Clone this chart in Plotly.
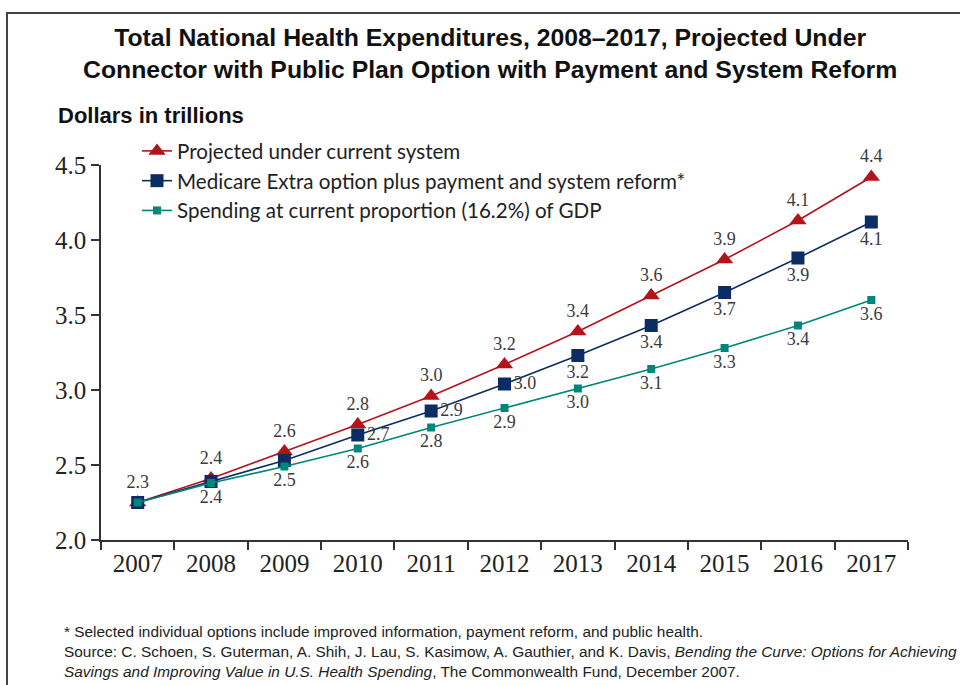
import plotly.graph_objects as go

years = ["2007", "2008", "2009", "2010", "2011", "2012", "2013", "2014", "2015", "2016", "2017"]
projected = [2.25, 2.41, 2.59, 2.77, 2.96, 3.17, 3.39, 3.63, 3.87, 4.13, 4.42]
medicare_extra = [2.25, 2.39, 2.53, 2.70, 2.86, 3.04, 3.23, 3.43, 3.65, 3.88, 4.12]
gdp_share = [2.25, 2.38, 2.49, 2.61, 2.75, 2.88, 3.01, 3.14, 3.28, 3.43, 3.60]

projected_labels = ["2.3", "2.4", "2.6", "2.8", "3.0", "3.2", "3.4", "3.6", "3.9", "4.1", "4.4"]
medicare_labels = ["", "", "", "2.7", "2.9", "3.0", "3.2", "3.4", "3.7", "3.9", "4.1"]
gdp_labels = ["", "2.4", "2.5", "2.6", "2.8", "2.9", "3.0", "3.1", "3.3", "3.4", "3.6"]

series_names = [
    "Projected under current system",
    "Medicare Extra option plus payment and system reform*",
    "Spending at current proportion (16.2%) of GDP",
]

RED = "#B5121B"
NAVY = "#0B2D63"
TEAL = "#00857A"
LABEL_COLOR = "#3a3a3a"
LABEL_FONT = dict(family="Liberation Serif, DejaVu Serif, serif", size=18, color=LABEL_COLOR)
TICK_FONT = dict(family="Liberation Serif, DejaVu Serif, serif", size=25, color="#222")
SANS = "Liberation Sans, Arial, sans-serif"

# plot area in pixels
L, R, T, B = 101, 908, 165, 540
W_, H_ = 960, 685


def X(px):
    return (px - L) / (R - L)


def Y(py):
    return (B - py) / (B - T)


fig = go.Figure()

fig.add_trace(go.Scatter(
    x=years, y=projected, name=series_names[0], legendgroup="a",
    mode="lines+markers+text", text=projected_labels, textposition="top center",
    textfont=LABEL_FONT,
    line=dict(color=RED, width=1.6),
    marker=dict(symbol="triangle-up", size=15, color=RED),
    cliponaxis=False,
))

medicare_pos = ["bottom center"] * 3 + ["middle right"] * 3 + ["bottom center"] * 5
fig.add_trace(go.Scatter(
    x=years, y=medicare_extra, name=series_names[1], legendgroup="b",
    mode="lines+markers+text", text=medicare_labels, textposition=medicare_pos,
    textfont=LABEL_FONT,
    line=dict(color=NAVY, width=1.6),
    marker=dict(symbol="square", size=13, color=NAVY),
    cliponaxis=False,
))

fig.add_trace(go.Scatter(
    x=years, y=gdp_share, name=series_names[2], legendgroup="c",
    mode="lines+markers+text", text=gdp_labels, textposition="bottom center",
    textfont=LABEL_FONT,
    line=dict(color=TEAL, width=1.6),
    marker=dict(symbol="square", size=8, color=TEAL),
    cliponaxis=False,
))

fig.update_layout(
    width=W_, height=H_,
    margin=dict(l=L, r=W_ - R, t=T, b=H_ - B, pad=0),
    paper_bgcolor="white", plot_bgcolor="white",
    showlegend=True,
    legend=dict(
        x=X(137), y=Y(131), xanchor="left", yanchor="top",
        bgcolor="rgba(0,0,0,0)", borderwidth=0,
        font=dict(family="Lato, Liberation Sans, sans-serif", size=20.6, color="#222"),
        traceorder="grouped", tracegroupgap=0, itemwidth=30,
    ),
    xaxis=dict(
        type="category", range=[-0.5, 10.5], tickson="boundaries",
        ticks="outside", ticklen=8, tickcolor="#333", tickwidth=1.5,
        showline=True, linecolor="#333", linewidth=1.5, showgrid=False,
        tickfont=TICK_FONT,
    ),
    yaxis=dict(
        range=[2.0, 4.5], dtick=0.5, tickformat=".1f",
        ticks="outside", ticklen=8, tickcolor="#333", tickwidth=1.5,
        showline=True, linecolor="#333", linewidth=1.5, showgrid=False, zeroline=False,
        tickfont=TICK_FONT,
    ),
    annotations=[
        dict(
            text="<b>Total National Health Expenditures, 2008–2017, Projected Under</b><br>"
                 "<b>Connector with Public Plan Option with Payment and System Reform</b>",
            x=X(490), y=Y(53), xref="paper", yref="paper", xanchor="center", yanchor="middle",
            showarrow=False, align="center",
            font=dict(family=SANS, size=24.8, color="#111"),
        ),
        dict(
            text="<b>Dollars in trillions</b>",
            x=X(56), y=Y(116), xref="paper", yref="paper", xanchor="left", yanchor="middle",
            showarrow=False,
            font=dict(family=SANS, size=22, color="#111"),
        ),
        dict(
            text="* Selected individual options include improved information, payment reform, and public health.<br>"
                 "Source: C. Schoen, S. Guterman, A. Shih, J. Lau, S. Kasimow, A. Gauthier, and K. Davis, "
                 "<i>Bending the Curve: Options for Achieving</i><br>"
                 "<i>Savings and Improving Value in U.S. Health Spending</i>, The Commonwealth Fund, December 2007.",
            x=X(62), y=Y(651), xref="paper", yref="paper", xanchor="left", yanchor="middle",
            showarrow=False, align="left",
            font=dict(family=SANS, size=15.4, color="#222"),
        ),
    ],
    shapes=[
        dict(type="rect", xref="paper", yref="paper",
             x0=X(7), x1=X(975), y0=Y(13), y1=Y(700),
             line=dict(color="#444", width=2), fillcolor="rgba(0,0,0,0)", layer="below"),
    ],
)

fig.write_html("out.html", config={"displayModeBar": False},
               post_script="document.body.style.margin='0px';")
